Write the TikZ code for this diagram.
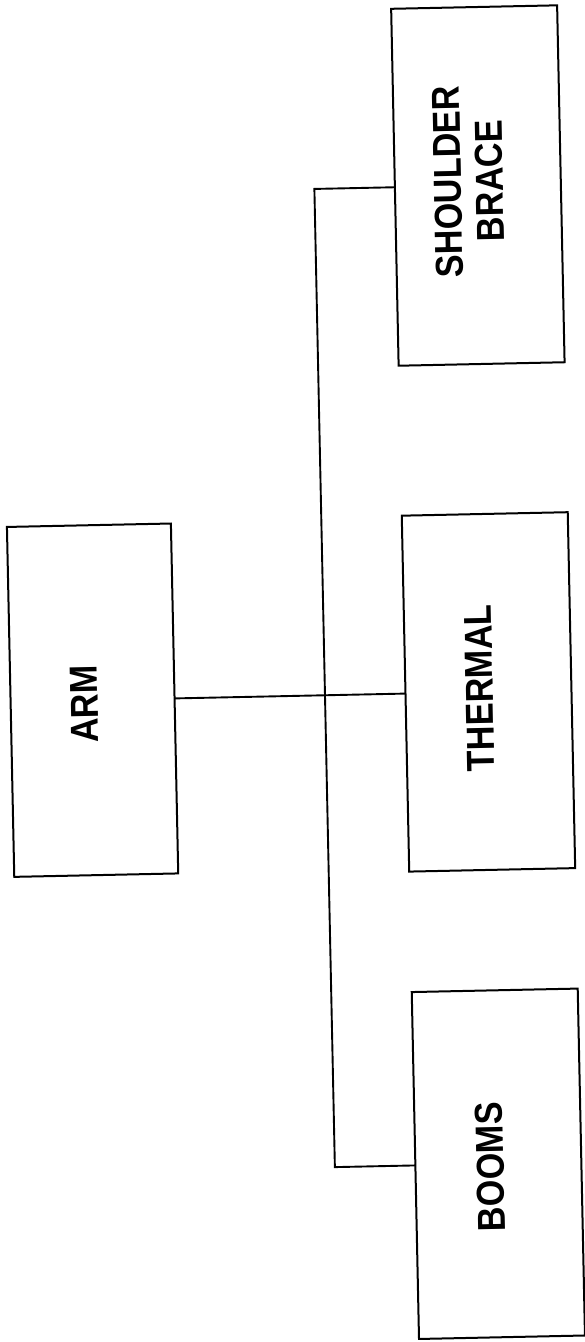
\documentclass[tikz,border=0pt]{standalone}
\usepackage{fontspec}
\setmainfont{Liberation Sans}
\newfontfamily\lblfont[FakeStretch=0.875]{Liberation Sans}
\begin{document}
\begin{tikzpicture}[x=1pt,y=-1pt,
  box/.style={draw, line width=2pt, inner sep=0pt, minimum width=166pt},
  lbl/.style={rotate=90, inner sep=0pt, align=center,
              font=\lblfont\bfseries\fontsize{39}{42}\selectfont},
  link/.style={line width=1.9pt, line cap=rect}]
\useasboundingbox (0,0) rectangle (584,1342);
\begin{scope}[rotate around={1.2:(292,671)}, transform shape]
  % boxes
  \node[box, minimum width=164pt, minimum height=350pt] (arm)      at (92,696)    {};
  \node[box, minimum height=356pt] (thermal)  at (488,696)   {};
  \node[box, minimum height=357pt] (shoulder) at (488,189.5) {};
  \node[box, minimum height=347pt] (booms)    at (488,1168)  {};
  % labels
  \node[lbl] (armtext)      at (84,700)   {ARM};
  \node[lbl] (thermaltext)  at (479,692)  {THERMAL};
  \node[lbl] (shouldertext) at (479,185)  {SHOULDER\\BRACE};
  \node[lbl] (boomstext)    at (480,1171) {BOOMS};
  % connectors
  \coordinate (jtop) at (324.5,189.5);
  \coordinate (jbot) at (324.5,1168);
  \draw[link] (arm.east) -- (thermal.west);
  \draw[link] (shoulder.west) -- (jtop) -- (jbot) -- (booms.west);
\end{scope}
\end{tikzpicture}
\end{document}
